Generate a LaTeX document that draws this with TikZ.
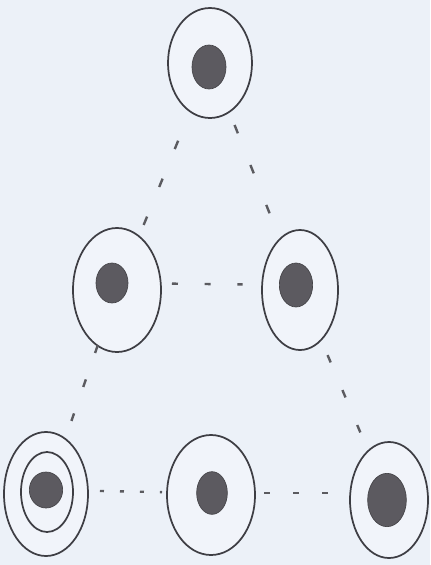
\documentclass[tikz,border=0pt]{standalone}
\usetikzlibrary{shapes.geometric}

\definecolor{paper}{RGB}{236,241,248}
\definecolor{inkline}{RGB}{62,62,68}
\definecolor{nucgray}{RGB}{92,90,96}

\begin{document}
\begin{tikzpicture}[
		x=0.75pt, y=-0.75pt,
		% Style for the cell outline
		cell/.style={ellipse, draw=inkline, line width=1.3pt, fill=white!25!paper, inner sep=0pt},
		% Style for the dark nucleus
		nucleus/.style={ellipse, fill=nucgray, draw=nucgray!75!black, line width=0.5pt, inner sep=0pt},
		% Dashed links between cells
		link/.style={draw=inkline!85, line width=1.8pt}
		]
		
		% background and bounding box
		\fill[paper] (0,0) rectangle (430,565);
		\useasboundingbox (0,0) rectangle (430,565);
		
		% ==============================================================================
		% CELLS
		% ==============================================================================
		\node[cell, minimum width=63pt, minimum height=82.5pt] (top) at (210,63) {};
		\node[cell, minimum width=66pt, minimum height=93pt] (midL) at (117,290) {};
		\node[cell, minimum width=57pt, minimum height=90pt] (midR) at (300,290) {};
		\node[cell, minimum width=63pt, minimum height=93pt] (botL) at (46,494) {};
		\node[cell, minimum width=39pt, minimum height=60pt] (botLin) at (47,492) {}; % inner ring
		\node[cell, minimum width=66pt, minimum height=90pt] (botM) at (211,495) {};
		\node[cell, minimum width=58.5pt, minimum height=87pt] (botR) at (389,500) {};
		
		% Nuclei
		\node[nucleus, minimum width=25.5pt, minimum height=33pt] (topN) at (209,67) {};
		\node[nucleus, minimum width=24pt, minimum height=30pt] (midLN) at (112,283) {};
		\node[nucleus, minimum width=25pt, minimum height=33pt] (midRN) at (296,285) {};
		\node[nucleus, minimum width=25pt, minimum height=27pt] (botLN) at (46,490) {};
		\node[nucleus, minimum width=23pt, minimum height=32pt] (botMN) at (212,493) {};
		\node[nucleus, minimum width=29pt, minimum height=40pt] (botRN) at (387,500) {};
		
		% ==============================================================================
		% LINKS
		% ==============================================================================
		\draw[link, dash pattern=on 6.75pt off 24pt, shorten <=63pt, shorten >=52.5pt] (top.center) -- (midL.center);
		\draw[link, dash pattern=on 6.75pt off 25.5pt, shorten <=50pt, shorten >=61pt] (top.center) -- (midR.center);
		\draw[link, dash pattern=on 4.5pt off 20pt, shorten <=45pt, shorten >=40pt] (midLN.center) -- (midRN.center);
		\draw[link, dash pattern=on 6pt off 21pt, shorten <=44pt, shorten >=58pt] (midL.center) -- (botL.center);
		\draw[link, dash pattern=on 6pt off 22.5pt, shorten <=53pt, shorten >=54pt] (midR.center) -- (botR.center);
		\draw[link, dash pattern=on 3pt off 12pt, shorten <=40.5pt, shorten >=37.5pt] (botLN.center) -- (botMN.center); % dotted
		\draw[link, dash pattern=on 4.5pt off 17.25pt, shorten <=39pt, shorten >=44pt] (botMN.center) -- (botMN.center -| botRN.center);
		
\end{tikzpicture}
\end{document}
